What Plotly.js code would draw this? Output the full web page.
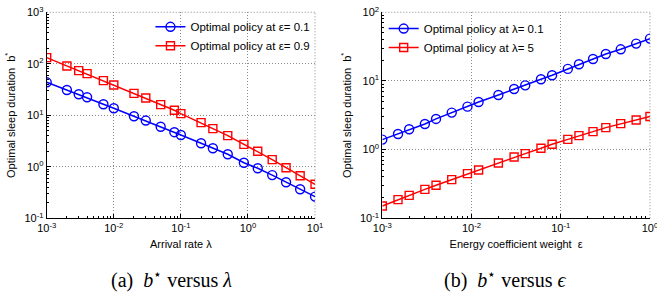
<!DOCTYPE html>
<html>
<head>
<meta charset="utf-8">
<script src="https://cdn.plot.ly/plotly-3.0.1.min.js"></script>
<style>html,body{margin:0;padding:0;background:#fff;}#chart{width:657px;height:293px;}</style>
</head>
<body>
<div id="chart"></div>
<script>
// (a) b* versus lambda
var lambdaVals = [0.001, 0.002, 0.003, 0.004, 0.007, 0.01, 0.02, 0.03, 0.05, 0.08, 0.1, 0.2, 0.3, 0.5, 0.87, 1.4, 2.3, 3.7, 6, 10];
var bEps01 = [43.7, 31, 25.6, 22.4, 16.4, 13.7, 9.6, 7.9, 6.0, 4.7, 4.15, 2.86, 2.29, 1.75, 1.2, 0.935, 0.69, 0.50, 0.366, 0.264];
var bEps09 = [132, 90.8, 73.7, 64.4, 47.1, 38.8, 26.7, 21.7, 16.1, 12.5, 10.8, 7.2, 5.5, 4.03, 2.73, 2.0, 1.38, 0.96, 0.67, 0.457];

// (b) b* versus epsilon
var epsVals = [0.001, 0.0015, 0.002, 0.003, 0.004, 0.006, 0.009, 0.012, 0.02, 0.03, 0.04, 0.06, 0.08, 0.12, 0.16, 0.23, 0.32, 0.47, 0.7, 1];
var bLam01 = [1.40, 1.69, 1.98, 2.36, 2.80, 3.46, 4.23, 4.94, 6.25, 7.65, 8.64, 10.6, 12.1, 15.0, 17.5, 20.9, 24.7, 28.9, 35.0, 41.4];
var bLam5 = [0.151, 0.187, 0.216, 0.264, 0.303, 0.366, 0.447, 0.506, 0.64, 0.78, 0.875, 1.045, 1.20, 1.41, 1.60, 1.83, 2.09, 2.39, 2.70, 3.03];

var names = ['Optimal policy at \u03b5= 0.1', 'Optimal policy at \u03b5= 0.9', 'Optimal policy at \u03bb= 0.1', 'Optimal policy at \u03bb= 5'];

function decadeTicks(lo, hi) {
  var v = [], t = [];
  for (var p = lo; p <= hi; p++) { v.push(Math.pow(10, p)); t.push('10<sup>' + p + '</sup>'); }
  return {v: v, t: t};
}
function minorTicks(lo, hi) {
  var v = [];
  for (var p = lo; p < hi; p++) for (var k = 2; k <= 9; k++) v.push(k * Math.pow(10, p));
  return v;
}

var blue = '#0000ff', red = '#ff0000';
function tr(x, y, name, color, sym, xa, ya, leg) {
  return {x: x, y: y, name: name, type: 'scatter', mode: 'lines+markers', xaxis: xa, yaxis: ya, legend: leg,
    line: {color: color, width: 1.5},
    marker: {symbol: sym, size: sym === 'circle-open' ? 9 : 8, color: color, line: {color: color, width: 1.4}}};
}
var data = [
  tr(lambdaVals, bEps01, names[0], blue, 'circle-open', 'x', 'y', 'legend'),
  tr(lambdaVals, bEps09, names[1], red, 'square-open', 'x', 'y', 'legend'),
  tr(epsVals, bLam01, names[2], blue, 'circle-open', 'x2', 'y2', 'legend2'),
  tr(epsVals, bLam5, names[3], red, 'square-open', 'x2', 'y2', 'legend2')
];

var sans = 'Liberation Sans, Arial, sans-serif';
var tickFont = {family: sans, size: 11, color: '#000'};
var gridColor = '#8a8a8a', gridDash = '1px,2px';
function axis(lo, hi, domain, anchor, title, standoff) {
  var d = decadeTicks(lo, hi);
  return {
    type: 'log', range: [lo, hi], domain: domain, anchor: anchor,
    tickmode: 'array', tickvals: d.v, ticktext: d.t,
    ticks: 'inside', ticklen: 4, tickwidth: 1, tickcolor: '#000',
    minor: {tickmode: 'array', tickvals: minorTicks(lo, hi), ticks: 'inside', ticklen: 2, tickcolor: '#000', showgrid: false},
    showline: true, linecolor: '#000', linewidth: 1, mirror: false,
    showgrid: true, gridcolor: gridColor, griddash: gridDash, gridwidth: 1,
    zeroline: false, tickfont: tickFont, automargin: false, ticklabeloverflow: 'allow',
    title: {text: title, font: {family: sans, size: 11, color: '#000'}, standoff: standoff}
  };
}

function edge(xr, yr, x0, y0, x1, y1) {
  return {type: 'line', xref: xr, yref: yr, x0: x0, y0: y0, x1: x1, y1: y1, layer: 'below',
    line: {color: gridColor, width: 1, dash: gridDash}};
}

var yd = [0.255, 0.958];
var capFont = {family: 'Liberation Serif, Times New Roman, serif', size: 20, color: '#000'};
var legFont = {family: sans, size: 11.5, color: '#000'};
var layout = {
  width: 657, height: 293,
  margin: {l: 0, r: 0, t: 0, b: 0},
  paper_bgcolor: '#fff', plot_bgcolor: '#fff',
  xaxis: axis(-3, 1, [0.0711, 0.4795], 'y', 'Arrival rate \u03bb', 6),
  yaxis: axis(-1, 3, yd, 'x', 'Optimal sleep duration  b<sup>*</sup>', 6),
  xaxis2: axis(-3, 0, [0.5819, 0.9893], 'y2', 'Energy coefficient weight  \u03b5', 6),
  yaxis2: axis(-1, 2, yd, 'x2', 'Optimal sleep duration  b<sup>*</sup>', 6),
  showlegend: true,
  legend: {x: 0.229, y: 0.958, xanchor: 'left', yanchor: 'top', bgcolor: 'rgba(0,0,0,0)', borderwidth: 0,
    font: legFont, tracegroupgap: 0, itemwidth: 30},
  legend2: {x: 0.584, y: 0.952, xanchor: 'left', yanchor: 'top', bgcolor: 'rgba(0,0,0,0)', borderwidth: 0,
    font: legFont, tracegroupgap: 0, itemwidth: 30},
  shapes: [
    edge('x domain', 'y domain', 0, 1, 1, 1), edge('x domain', 'y domain', 1, 0, 1, 1),
    edge('x2 domain', 'y2 domain', 0, 1, 1, 1), edge('x2 domain', 'y2 domain', 1, 0, 1, 1)
  ],
  annotations: [
    {text: '(a)  <i>b</i><sup>\u22c6</sup> versus <i>\u03bb</i>', xref: 'paper', yref: 'paper', x: 171 / 657, y: 1 - 279 / 293,
      xanchor: 'center', yanchor: 'middle', showarrow: false, font: capFont},
    {text: '(b)  <i>b</i><sup>\u22c6</sup> versus <i>\u03f5</i>', xref: 'paper', yref: 'paper', x: 505 / 657, y: 1 - 279 / 293,
      xanchor: 'center', yanchor: 'middle', showarrow: false, font: capFont}
  ]
};

Plotly.newPlot('chart', data, layout, {staticPlot: true, displayModeBar: false});
</script>
</body>
</html>
